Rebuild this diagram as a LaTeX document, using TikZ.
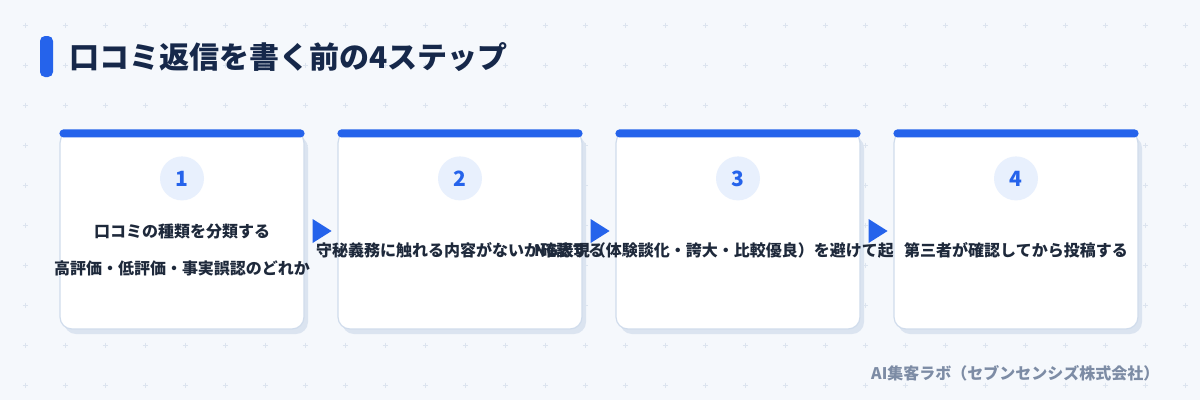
\documentclass[tikz,border=0pt]{standalone}
\usepackage{fontspec}
\setmainfont{Noto Sans CJK JP}
\usetikzlibrary{calc,shadows}
\definecolor{bgc}{HTML}{F5F8FC}
\definecolor{plusc}{HTML}{DCE4EF}
\definecolor{bluec}{HTML}{2563EB}
\definecolor{titlec}{HTML}{16284A}
\definecolor{textc}{HTML}{1E293B}
\definecolor{circc}{HTML}{E8F0FD}
\definecolor{footc}{HTML}{7D8CA5}
\definecolor{borderc}{HTML}{D0DCEC}
\definecolor{shadowc}{HTML}{DBE4F0}
\tikzset{
  plusmark/.style={draw=plusc, line width=0.9pt},
  cardbox/.style={draw=borderc, line width=1.2pt, fill=white, rounded corners=12pt,
    minimum width=244pt, minimum height=198pt, inner sep=0pt,
    drop shadow={shadow xshift=4pt, shadow yshift=-5pt, fill=shadowc, opacity=1}},
  topbar/.style={fill=bluec, rounded corners=4pt},
  numcirc/.style={circle, fill=circc, minimum size=44pt, inner sep=0pt,
    text=bluec, font=\fontsize{21}{21}\selectfont\bfseries},
  steptext/.style={align=center, inner sep=0pt, text=textc,
    font=\fontsize{16}{37}\selectfont\bfseries},
  steparrow/.style={fill=bluec},
}
\begin{document}
\begin{tikzpicture}[x=1pt,y=-1pt]
\useasboundingbox (0,0) rectangle (1200,400);
\fill[bgc] (0,0) rectangle (1200,400);
\foreach \i in {0,...,29} {
  \foreach \j in {0,...,9} {
    \draw[plusmark] (25+40*\i-2.5,25+40*\j) -- ++(5,0);
    \draw[plusmark] (25+40*\i,25+40*\j-2.5) -- ++(0,5);
  }
}
% title
\fill[bluec, rounded corners=5pt] (40,36) rectangle (53,77);
\node[anchor=west, inner sep=0pt, text=titlec, font=\fontsize{30}{30}\selectfont\bfseries] (title) at (69,57.5) {口コミ返信を書く前の4ステップ};

% card 1
\node[cardbox] (c1) at (182,230) {};
\fill[topbar] ($(c1.north west)+(0,-1)$) rectangle ($(c1.north east)+(0,7)$);
\node[numcirc] (n1) at ($(c1.north)+(0,48)$) {1};
\node[steptext] (t1) at (182,249.5) {口コミの種類を分類する\\高評価・低評価・事実誤認のどれか};
\fill[steparrow] ($(c1.east)+(8,-11)$) -- ++(0,24) -- ++(19,-12) -- cycle;

% card 2
\node[cardbox] (c2) at (460,230) {};
\fill[topbar] ($(c2.north west)+(0,-1)$) rectangle ($(c2.north east)+(0,7)$);
\node[numcirc] (n2) at ($(c2.north)+(0,48)$) {2};
\node[steptext] (t2) at (460,250) {守秘義務に触れる内容がないか確認する};
\fill[steparrow] ($(c2.east)+(8,-11)$) -- ++(0,24) -- ++(19,-12) -- cycle;

% card 3
\node[cardbox] (c3) at (738,230) {};
\fill[topbar] ($(c3.north west)+(0,-1)$) rectangle ($(c3.north east)+(0,7)$);
\node[numcirc] (n3) at ($(c3.north)+(0,48)$) {3};
\node[steptext] (t3) at (738,250) {NG表現（体験談化・誇大・比較優良）を避けて起草する};
\fill[steparrow] ($(c3.east)+(8,-11)$) -- ++(0,24) -- ++(19,-12) -- cycle;

% card 4
\node[cardbox] (c4) at (1016,230) {};
\fill[topbar] ($(c4.north west)+(0,-1)$) rectangle ($(c4.north east)+(0,7)$);
\node[numcirc] (n4) at ($(c4.north)+(0,48)$) {4};
\node[steptext] (t4) at (1016,250) {第三者が確認してから投稿する};

% footer
\node[anchor=west, inner sep=0pt, text=footc, font=\fontsize{16}{16}\selectfont\bfseries] (foot) at (871,373) {AI集客ラボ（セブンセンシズ株式会社）};
\end{tikzpicture}
\end{document}
